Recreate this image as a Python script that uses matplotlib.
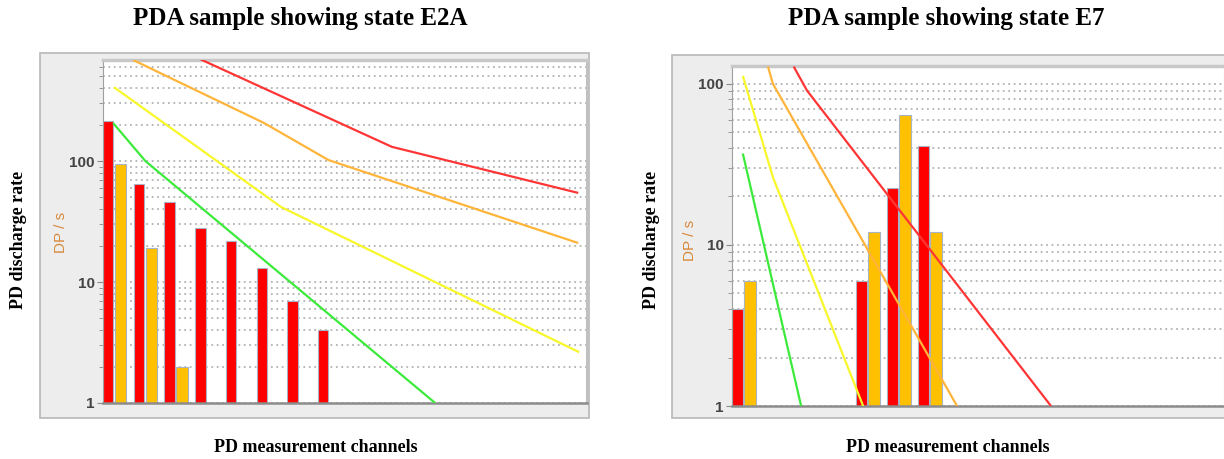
import numpy as np
import matplotlib
matplotlib.use("Agg")
import matplotlib.pyplot as plt
from matplotlib.patches import Rectangle
from matplotlib.ticker import LogLocator, NullFormatter

W, H = 1224, 459

# discharge rate per measurement channel (DP/s), 0 = no activity
e2a_red = [215, 65, 46, 28, 22, 13, 7, 4, 0, 0, 0, 0, 0, 0, 0, 0]
e2a_amber = [95, 19, 2, 0, 0, 0, 0, 0, 0, 0, 0, 0, 0, 0, 0, 0]
e7_red = [4, 0, 0, 0, 6, 22.6, 41, 0, 0, 0, 0, 0, 0, 0, 0, 0]
e7_amber = [6, 0, 0, 0, 12, 64, 12, 0, 0, 0, 0, 0, 0, 0, 0, 0]

# limit curves: (channel position, DP/s)
e2a_green_x, e2a_green_y = [0.33, 1.38, 10.82], [206, 100, 1]
e2a_yellow_x, e2a_yellow_y = [0.36, 5.80, 15.51], [407, 41.7, 2.63]
e2a_orange_x, e2a_orange_y = [0.98, 5.25, 7.34, 15.48], [684, 206, 102, 21]
e2a_redline_x, e2a_redline_y = [3.18, 9.41, 15.48], [692, 131, 54.5]

e7_green_x, e7_green_y = [0.35, 2.23], [36.9, 1]
e7_yellow_x, e7_yellow_y = [0.35, 1.32, 4.23], [112, 26.3, 1]
e7_orange_x, e7_orange_y = [1.16, 1.32, 7.26], [128, 100, 1]
e7_redline_x, e7_redline_y = [1.99, 2.42, 10.29], [128, 90.8, 1]

GREEN, YELLOW, ORANGE, RED = "#3cea3c", "#f7f72a", "#ffb43a", "#ff3535"

fig = plt.figure(figsize=(W / 100, H / 100), dpi=100)
fig.patch.set_facecolor("white")


def fx(px):
    return px / W


def fy(py):
    return 1 - py / H


def panel(box, frame, ymax, red, amber, curves, title, cx, xl_x, dp_y):
    x0, y0, x1, y1 = frame
    fig.add_artist(Rectangle((fx(x0), fy(y1)), fx(x1 - x0), (y1 - y0) / H,
                             transform=fig.transFigure, facecolor="#ededed",
                             edgecolor="#b8b8b8", lw=1.2, zorder=-2))
    l, t, r, b = box
    ax = fig.add_axes([fx(l), fy(b), fx(r - l), (b - t) / H])
    ax.set_yscale("log")
    ax.set_ylim(1, ymax)
    ax.set_xlim(0, (r - l) / 30.7)

    pos = np.arange(len(red))
    for xs, vals, off, w, col in [(pos, red, 0.17, 0.34, "#ff0000"),
                                  (pos, amber, 0.575, 0.37, "#ffc000")]:
        v = np.asarray(vals, float)
        m = v > 1
        ax.bar(xs[m] + off, v[m] - 1, width=w, bottom=1, color=col,
               edgecolor="#a8b4c4", linewidth=0.8, zorder=2)

    for (cxs, cys), col in zip(curves, [GREEN, YELLOW, ORANGE, RED]):
        ax.plot(cxs, cys, color=col, lw=1.6, zorder=3, solid_capstyle="butt")

    ax.yaxis.set_major_locator(LogLocator(base=10))
    ax.yaxis.set_minor_locator(LogLocator(base=10, subs=np.arange(2, 10)))
    ax.yaxis.set_minor_formatter(NullFormatter())
    ax.set_yticks([1, 10, 100])
    ax.set_yticklabels(["1", "10", "100"])
    ax.yaxis.grid(True, which="both", linestyle=(0, (1, 2)),
                  color="#b3b3b3", lw=1.3, zorder=1)
    ax.set_axisbelow(True)
    ax.set_xticks([])
    ax.tick_params(axis="y", which="major", direction="out", length=4,
                   color="#8a8a8a", labelsize=11, labelcolor="#444444", pad=2)
    ax.tick_params(axis="y", which="minor", direction="out", length=3,
                   color="#8a8a8a")
    for lab in ax.get_yticklabels():
        lab.set_fontweight("bold")
        lab.set_family("Liberation Sans")

    ax.spines["top"].set_color("#c8c8c8")
    ax.spines["top"].set_linewidth(2.5)
    ax.spines["right"].set_color("#c0c0c0")
    ax.spines["right"].set_linewidth(1.5)
    ax.spines["left"].set_color("#a0a0a0")
    ax.spines["bottom"].set_color("#8c8c8c")
    ax.spines["bottom"].set_linewidth(1.8)

    fig.text(fx(l - 42), fy(dp_y), "DP / s", rotation=90, ha="center",
             va="center", color="#d8883a", fontsize=11,
             family="Liberation Sans")
    fig.text(fx(cx), fy(19), title, ha="center", va="center",
             fontsize=18, fontweight="bold", family="Liberation Serif")
    fig.text(fx(xl_x), fy(447), "PD measurement channels", ha="center",
             va="center", fontsize=13, fontweight="bold",
             family="Liberation Serif")
    fig.text(fx(x0 - 21), fy(240), "PD discharge rate", rotation=90,
             ha="center", va="center", fontsize=13, fontweight="bold",
             family="Liberation Serif")
    return ax


panel((103, 60, 587, 403), (40, 53, 589, 418), 684, e2a_red, e2a_amber,
      [(e2a_green_x, e2a_green_y), (e2a_yellow_x, e2a_yellow_y),
       (e2a_orange_x, e2a_orange_y), (e2a_redline_x, e2a_redline_y)],
      "PDA sample showing state E2A", 300, 316, 232)

ax2 = panel((732, 66, 1225, 406), (672, 55, 1230, 418), 129, e7_red, e7_amber,
            [(e7_green_x, e7_green_y), (e7_yellow_x, e7_yellow_y),
             (e7_orange_x, e7_orange_y), (e7_redline_x, e7_redline_y)],
            "PDA sample showing state E7", 946, 948, 240)
ax2.set_xlim(0, 493 / 31)

fig.savefig("out.png", dpi=100)
